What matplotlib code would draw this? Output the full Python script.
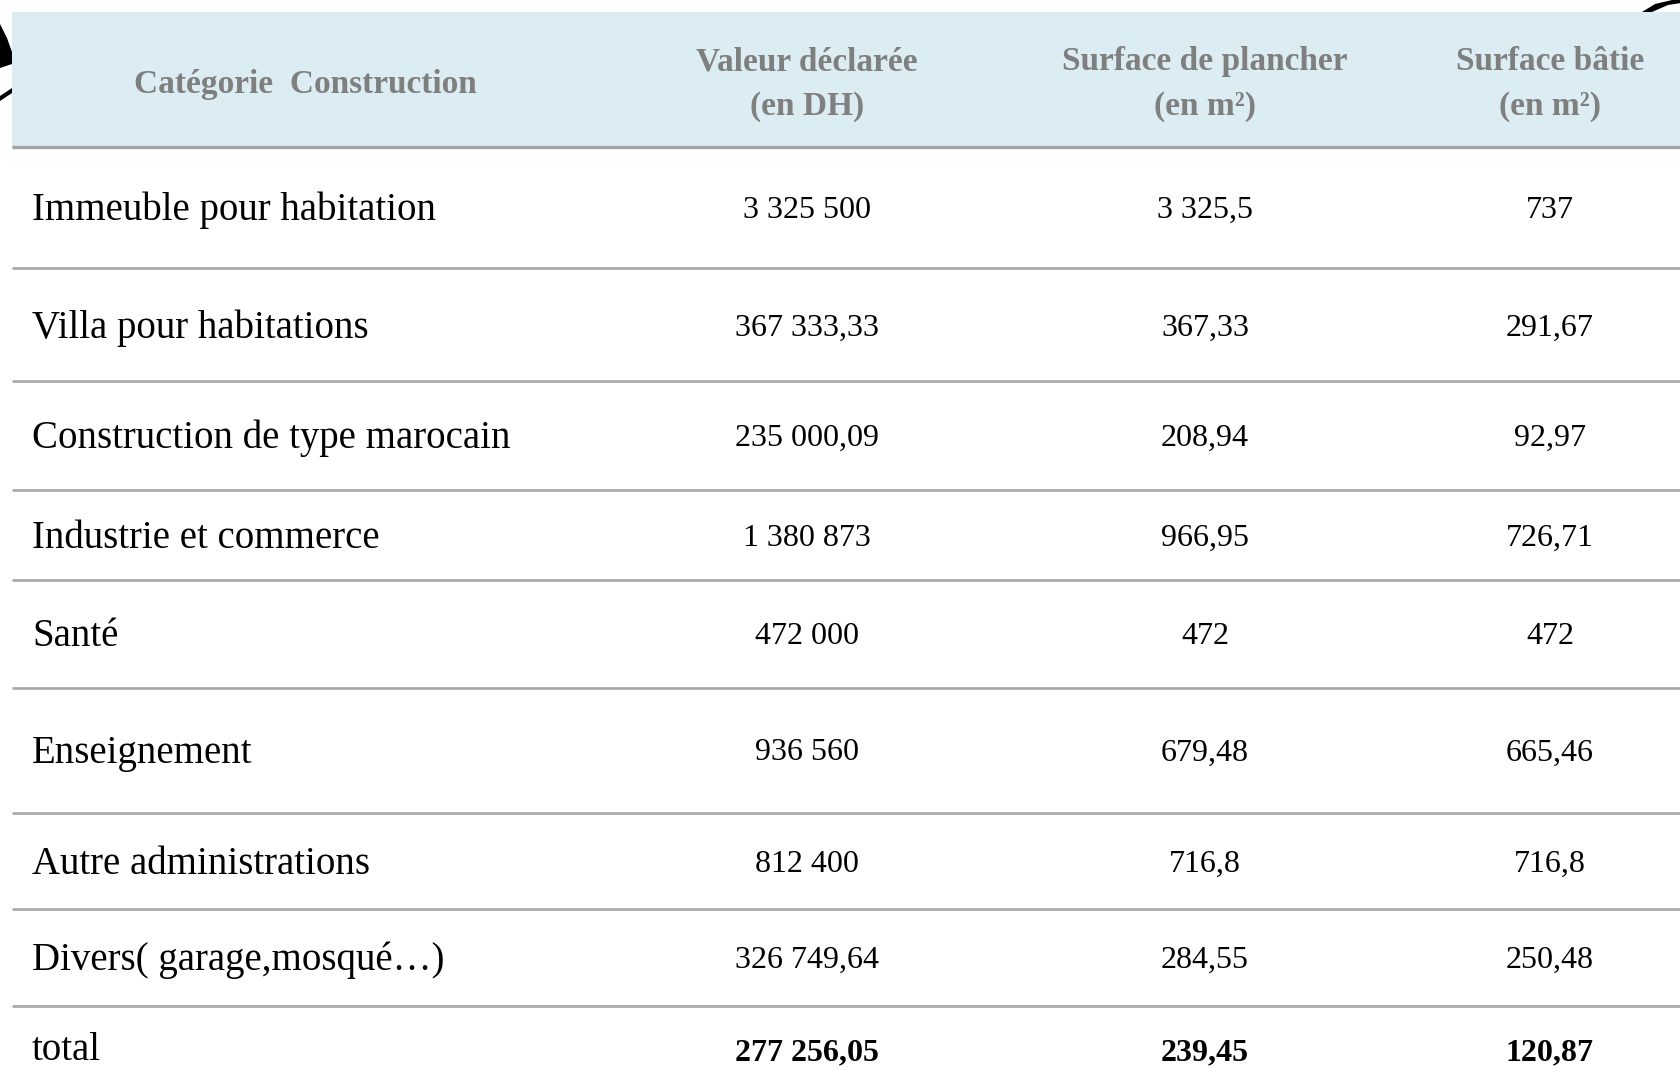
import matplotlib
matplotlib.use("Agg")
import matplotlib.pyplot as plt
from matplotlib.patches import Rectangle, Polygon

# ---- data ----
header_category = "Catégorie  Construction"
headers = ["Valeur déclarée\n(en DH)", "Surface de plancher\n(en m²)", "Surface bâtie\n(en m²)"]
categories = [
    "Immeuble pour habitation",
    "Villa pour habitations",
    "Construction de type marocain",
    "Industrie et commerce",
    "Santé",
    "Enseignement",
    "Autre administrations",
    "Divers( garage,mosqué…)",
]
valeur_declaree = ["3 325 500", "367 333,33", "235 000,09", "1 380 873", "472 000", "936 560", "812 400", "326 749,64"]
surface_plancher = ["3 325,5", "367,33", "208,94", "966,95", "472", "679,48", "716,8", "284,55"]
surface_batie = ["737", "291,67", "92,97", "726,71", "472", "665,46", "716,8", "250,48"]
total_label = "total"
totals = ["277 256,05", "239,45", "120,87"]

# ---- layout (pixels) ----
W, H = 1681, 1071
fig = plt.figure(figsize=(W / 100, H / 100), dpi=100)
ax = fig.add_axes([0, 0, 1, 1])
ax.set_xlim(0, W)
ax.set_ylim(H, 0)
ax.axis("off")

serif = ["Liberation Serif", "DejaVu Serif"]
header_color = "#7f7f7f"
line_color = "#ababab"

# background decoration fragments (edges of the source picture)
ax.add_patch(Polygon([[0, 24], [7, 38], [12, 52], [12, 64], [0, 68]], closed=True,
                     facecolor="black", edgecolor="none", zorder=0))
ax.add_patch(Polygon([[0, 96], [12, 88], [12, 93], [0, 101]], closed=True,
                     facecolor="black", edgecolor="none", zorder=0))
ax.add_patch(Polygon([[1642, 12], [1655, 4], [1672, 0], [1681, 0], [1681, 3], [1668, 5], [1652, 12]],
                     closed=True, facecolor="black", edgecolor="none", zorder=0))

# header band
ax.add_patch(Rectangle((12, 12), W - 12, 135, facecolor="#dbedf3", edgecolor="none", zorder=1))
ax.plot([12, W], [147, 147], color="#a3a3a3", lw=2.4, solid_capstyle="butt", zorder=2)

col_x = [807, 1205, 1550]
ax.text(305, 84, header_category, ha="center", va="center", fontsize=24,
        fontweight="bold", color=header_color, family=serif)
for x, h in zip(col_x, headers):
    ax.text(x, 84, h, ha="center", va="center", fontsize=24, fontweight="bold",
            color=header_color, family=serif, linespacing=1.55)

row_y = [210, 328, 438, 538, 637, 753, 864, 960]
sep_y = [268, 381, 490, 580, 688, 813, 909, 1006]
total_y = 1051

for i, cat in enumerate(categories):
    y = row_y[i]
    ax.text(32, y, cat, ha="left", va="center", fontsize=28, color="black", family=serif)
    for x, v in zip(col_x, [valeur_declaree[i], surface_plancher[i], surface_batie[i]]):
        ax.text(x, y, v, ha="center", va="center", fontsize=23, color="black", family=serif)

for y in sep_y:
    ax.plot([12, W], [y, y], color=line_color, lw=2.0, solid_capstyle="butt", zorder=2)

ax.text(32, total_y, total_label, ha="left", va="center", fontsize=28, color="black", family=serif)
for x, v in zip(col_x, totals):
    ax.text(x, total_y + 2, v, ha="center", va="center", fontsize=23, fontweight="bold",
            color="black", family=serif)

fig.savefig("out.png", dpi=100, facecolor="white")
